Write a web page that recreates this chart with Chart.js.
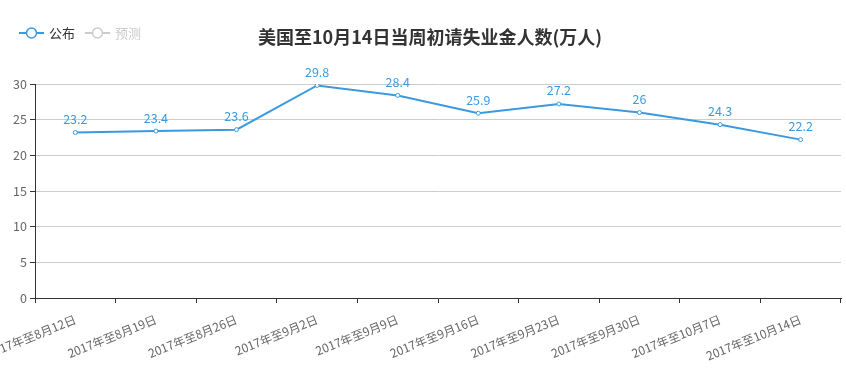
<!DOCTYPE html>
<html>
<head>
<meta charset="utf-8">
<script src="https://cdn.jsdelivr.net/npm/chart.js@4"></script>
<style>
    html, body { margin: 0; padding: 0; background: #ffffff; }
    #wrap { width: 846px; height: 385px; }
</style>
</head>
<body>
<div id="wrap"><canvas id="claimsChart" width="846" height="385"></canvas></div>
<script>
const FONT = '"Noto Sans CJK SC", "Microsoft YaHei", sans-serif';

const titleText = '美国至10月14日当周初请失业金人数(万人)';

const weekLabels = [
    '2017年至8月12日', '2017年至8月19日', '2017年至8月26日', '2017年至9月2日',
    '2017年至9月9日', '2017年至9月16日', '2017年至9月23日', '2017年至9月30日',
    '2017年至10月7日', '2017年至10月14日'
];

const publishedValues = [23.2, 23.4, 23.6, 29.8, 28.4, 25.9, 27.2, 26, 24.3, 22.2];

const forecastValues = [];

const legendNames = ['公布', '预测'];

/* =========================
   TITLE + LEGEND + VALUES
========================= */

const decorPlugin = {
    id: 'decor',

    afterDraw(chart) {
        const ctx = chart.ctx;
        ctx.save();

        // title
        ctx.font = 'bold 18px ' + FONT;
        ctx.fillStyle = '#333333';
        ctx.textAlign = 'center';
        ctx.textBaseline = 'middle';
        ctx.fillText(titleText, 430, 37);

        // legend
        const colors = ['#3a9ae0', '#cccccc'];
        const textColors = ['#333333', '#cccccc'];
        let x = 19;
        legendNames.forEach((name, i) => {
            ctx.strokeStyle = colors[i];
            ctx.lineWidth = 2;
            ctx.beginPath();
            ctx.moveTo(x, 33);
            ctx.lineTo(x + 25, 33);
            ctx.stroke();
            ctx.beginPath();
            ctx.arc(x + 12.5, 33, 5, 0, Math.PI * 2);
            ctx.fillStyle = '#ffffff';
            ctx.fill();
            ctx.lineWidth = 1.5;
            ctx.stroke();

            ctx.font = '13px ' + FONT;
            ctx.fillStyle = textColors[i];
            ctx.textAlign = 'left';
            ctx.fillText(name, x + 30, 33);
            x += 30 + ctx.measureText(name).width + 10;
        });

        ctx.restore();
    },

    afterDatasetsDraw(chart) {
        const ctx = chart.ctx;
        const meta = chart.getDatasetMeta(0);
        ctx.save();
        ctx.font = '12.5px ' + FONT;
        ctx.fillStyle = '#3a9ae0';
        ctx.textAlign = 'center';
        ctx.textBaseline = 'bottom';
        meta.data.forEach((pt, i) => {
            ctx.fillText(String(publishedValues[i]), pt.x, pt.y - 7);
        });
        ctx.restore();
    }
};

const ctx = document.getElementById('claimsChart').getContext('2d');

new Chart(ctx, {

    type: 'line',

    data: {
        labels: weekLabels,
        datasets: [
            {
                label: legendNames[0],
                data: publishedValues,
                borderColor: '#3a9ae0',
                backgroundColor: '#ffffff',
                borderWidth: 2,
                pointRadius: 2,
                pointBorderWidth: 1,
                pointBorderColor: '#3a9ae0',
                pointBackgroundColor: '#ffffff',
                tension: 0,
                fill: false
            },
            {
                label: legendNames[1],
                data: forecastValues,
                borderColor: '#cccccc',
                hidden: true
            }
        ]
    },

    options: {
        responsive: false,
        animation: false,

        layout: {
            padding: { top: 84, left: 0, right: 1, bottom: 0 }
        },

        plugins: {
            legend: { display: false },
            title: { display: false },
            tooltip: { enabled: false }
        },

        scales: {
            x: {
                offset: true,
                border: { color: '#333333', width: 1 },
                grid: {
                    offset: true,
                    drawOnChartArea: false,
                    color: '#333333',
                    tickLength: 5
                },
                ticks: {
                    color: '#666666',
                    font: { family: FONT, size: 12 },
                    minRotation: 22,
                    maxRotation: 22,
                    autoSkip: false,
                    padding: 9
                },
                afterFit(scale) {
                    scale.height = 87;
                    scale.paddingLeft = 0;
                    scale.paddingRight = 0;
                }
            },
            y: {
                min: 0,
                max: 30,
                border: { color: '#333333', width: 1 },
                grid: {
                    color: '#cccccc',
                    tickColor: '#333333',
                    tickLength: 5
                },
                ticks: {
                    stepSize: 5,
                    color: '#666666',
                    font: { family: FONT, size: 12.5 },
                    padding: 3
                },
                afterFit(scale) {
                    scale.width = 35;
                    scale.paddingTop = 0;
                    scale.paddingBottom = 0;
                }
            }
        }
    },

    plugins: [decorPlugin]
});
</script>
</body>
</html>
